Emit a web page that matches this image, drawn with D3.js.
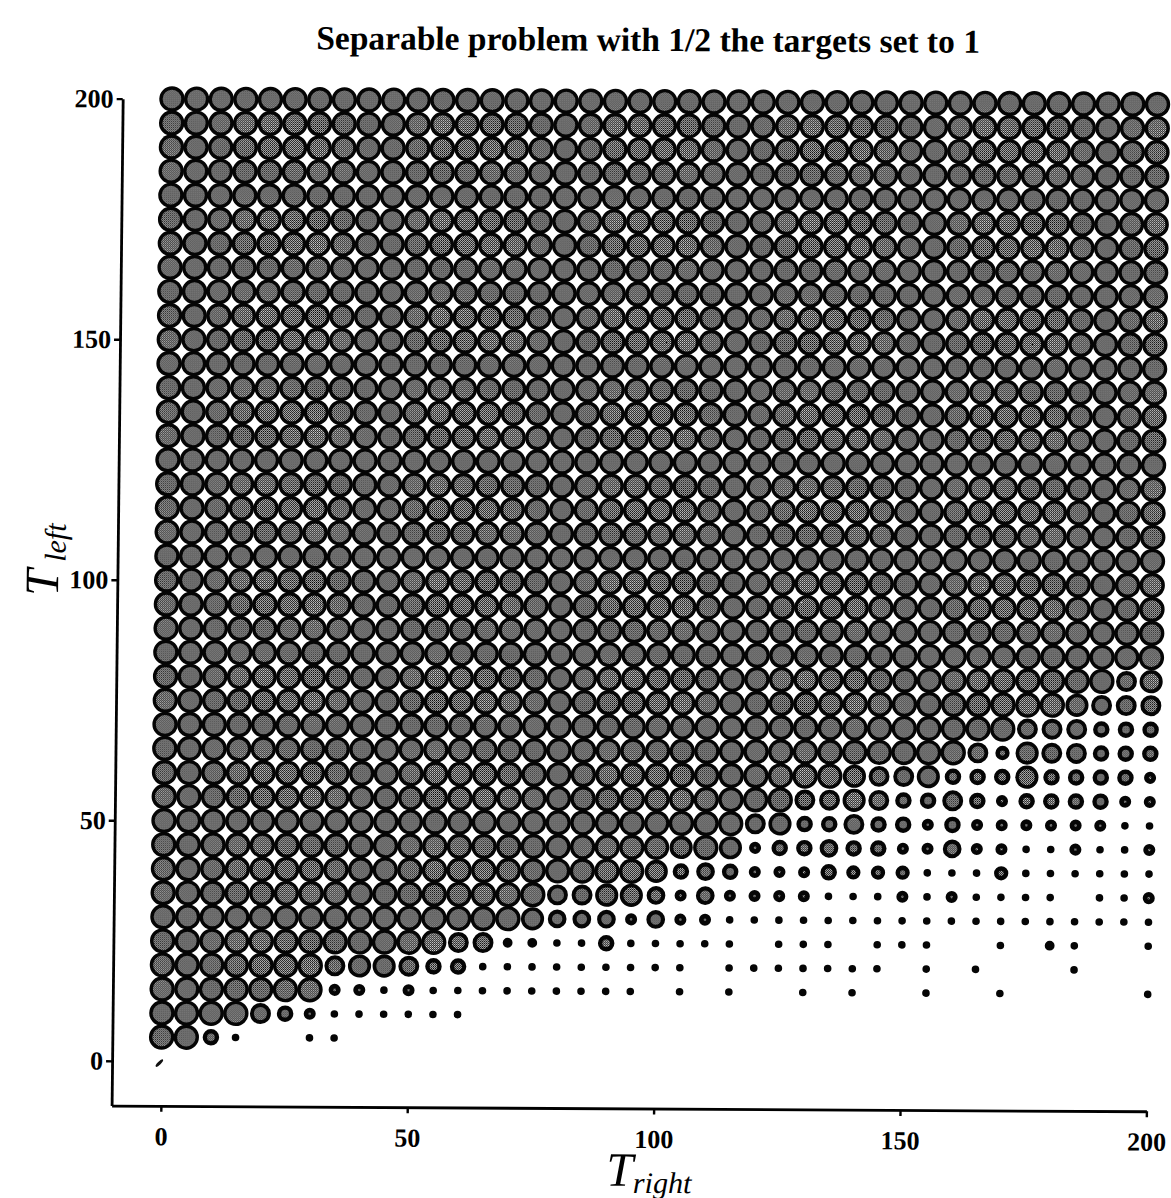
<!DOCTYPE html>
<html><head><meta charset="utf-8">
<script src="https://cdn.jsdelivr.net/npm/d3@7"></script>
<style>body{margin:0;background:#fff}svg{display:block}</style>
</head><body>
<svg id="chart" width="1171" height="1198"></svg>
<script>
// ---------------- data ----------------
const titleText = "Separable problem with 1/2 the targets set to 1";
const tRight = [0,5,10,15,20,25,30,35,40,45,50,55,60,65,70,75,80,85,90,95,100,
                105,110,115,120,125,130,135,140,145,150,155,160,165,170,175,180,185,190,195,200];
const tLeft = [200,195,190,185,180,175,170,165,160,155,150,145,140,135,130,125,120,115,110,105,
               100,95,90,85,80,75,70,65,60,55,50,45,40,35,30,25,20,15,10,5];
const xTicks = [0,50,100,150,200];
const yTicks = [0,50,100,150,200];
// size code per cell (row = tLeft, column = tRight); 9 = full circle, 1 = dot, 0 = empty
const sizeRows = [
  "9999999999"+"9999999999"+"9999999999"+"9999999999"+"9", // 200
  "9999999999"+"9999999999"+"9999999999"+"9999999999"+"9", // 195
  "9999999999"+"9999999999"+"9999999999"+"9999999999"+"9", // 190
  "9999999999"+"9999999999"+"9999999999"+"9999999999"+"9", // 185
  "9999999999"+"9999999999"+"9999999999"+"9999999999"+"9", // 180
  "9999999999"+"9999999999"+"9999999999"+"9999999999"+"9", // 175
  "9999999999"+"9999999999"+"9999999999"+"9999999999"+"9", // 170
  "9999999999"+"9999999999"+"9999999999"+"9999999999"+"9", // 165
  "9999999999"+"9999999999"+"9999999999"+"9999999999"+"9", // 160
  "9999999999"+"9999999999"+"9999999999"+"9999999999"+"9", // 155
  "9999999999"+"9999999999"+"9999999999"+"9999999999"+"9", // 150
  "9999999999"+"9999999999"+"9999999999"+"9999999999"+"9", // 145
  "9999999999"+"9999999999"+"9999999999"+"9999999999"+"9", // 140
  "9999999999"+"9999999999"+"9999999999"+"9999999999"+"9", // 135
  "9999999999"+"9999999999"+"9999999999"+"9999999999"+"9", // 130
  "9999999999"+"9999999999"+"9999999999"+"9999999999"+"9", // 125
  "9999999999"+"9999999999"+"9999999999"+"9999999999"+"9", // 120
  "9999999999"+"9999999999"+"9999999999"+"9999999999"+"9", // 115
  "9999999999"+"9999999999"+"9999999999"+"9999999999"+"9", // 110
  "9999999999"+"9999999999"+"9999999999"+"9999999999"+"9", // 105
  "9999999999"+"9999999999"+"9999999999"+"9999999999"+"9", // 100
  "9999999999"+"9999999999"+"9999999999"+"9999999999"+"9", // 95
  "9999999999"+"9999999999"+"9999999999"+"9999999999"+"9", // 90
  "9999999999"+"9999999999"+"9999999999"+"9999999999"+"9", // 85
  "9999999999"+"9999999999"+"9999999999"+"9999999997"+"8", // 80
  "9999999999"+"9999999999"+"9999999999"+"9999999877"+"7", // 75
  "9999999999"+"9999999999"+"9999999999"+"9999977755"+"5", // 70
  "9999999999"+"9999999999"+"9999999999"+"9997487755"+"5", // 65
  "9999999999"+"9999999999"+"9999999987"+"7855585555"+"3", // 60
  "9999999999"+"9999999999"+"9999997787"+"5575355553"+"3", // 55
  "9999999999"+"9999999999"+"9999785575"+"5353333331"+"1", // 50
  "9999999999"+"9999999999"+"9898355655"+"3363311311"+"3", // 45
  "9999999999"+"9999999999"+"8565333544"+"4111411111"+"1", // 40
  "9999999999"+"9999997788"+"6363333111"+"3131111011"+"3", // 35
  "9999999999"+"9999986663"+"6331111111"+"1111111111"+"1", // 30
  "9999999999"+"9977221151"+"1111011101"+"1100102100"+"1", // 25
  "9999999788"+"7551111111"+"1101111111"+"0101000100"+"0", // 20
  "9999999331"+"3111111111"+"0101001010"+"0100100000"+"1", // 15
  "9999753111"+"1110000000"+"0000000000"+"0000000000"+"0", // 10
  "9951001100"+"0000000000"+"0000000000"+"0000000000"+"0"  // 5
];

// ---------------- drawing ----------------
const svg = d3.select("#chart");
const defs = svg.append("defs");
const pat = defs.append("pattern").attr("id","halftone")
  .attr("width",2).attr("height",2).attr("patternUnits","userSpaceOnUse");
pat.append("rect").attr("width",2).attr("height",2).attr("fill","#d2d2d2");
pat.append("rect").attr("width",1).attr("height",1).attr("fill","#000");
pat.append("rect").attr("x",1).attr("y",1).attr("width",1).attr("height",1).attr("fill","#000");

// slight scan skew of the original page
const g = svg.append("g").attr("transform","matrix(1,0.0055,-0.011,1,6.6,-3.575)");

const x = d3.scaleLinear().domain([-10,200]).range([117.2,1152]);
const y = d3.scaleLinear().domain([-9.3,200]).range([1108.5,101.6]);
const rOuter = d3.scaleLinear().domain([1,9]).range([3.8,12.7]);
const ring = d3.scaleLinear().domain([1,3,5,7,9]).range([3.8,4.7,4.4,3.9,3.4]).clamp(true);

const cells = [];
let bad = [];
sizeRows.forEach((row,j)=>{
  if (row.length !== tRight.length) bad.push(tLeft[j]+":"+row.length);
  tRight.forEach((tr,i)=>{
    const c = +row[i];
    if (c>0) cells.push({tr, tl:tLeft[j], c});
  });
});

const cg = g.append("g");
cg.selectAll("circle.o").data(cells).join("circle").attr("class","o")
  .attr("cx",d=>x(d.tr)).attr("cy",d=>y(d.tl)).attr("r",d=>rOuter(d.c)).attr("fill","#050505");
cg.selectAll("circle.i").data(cells.filter(d=>rOuter(d.c)-ring(d.c)>0.7)).join("circle").attr("class","i")
  .attr("cx",d=>x(d.tr)).attr("cy",d=>y(d.tl)).attr("r",d=>rOuter(d.c)-ring(d.c)).attr("fill","url(#halftone)");

// small slash at the origin
g.append("ellipse").attr("cx",x(0)-2).attr("cy",y(0)+2).attr("rx",5).attr("ry",1.6)
  .attr("transform",`rotate(-45,${x(0)-2},${y(0)+2})`).attr("fill","#111");

// axes
const fontTick = "'Liberation Serif','Times New Roman',serif";
const yAx = g.append("g").attr("transform",`translate(${x(-10)},0)`)
  .call(d3.axisLeft(y).tickValues(yTicks).tickSize(6).tickSizeOuter(0).tickPadding(3));
const xAx = g.append("g").attr("transform",`translate(0,${y(-9.3)})`)
  .call(d3.axisBottom(x).tickValues(xTicks).tickSize(6).tickSizeOuter(0).tickPadding(15));
[yAx,xAx].forEach(a=>{
  a.select(".domain").attr("stroke","#000").attr("stroke-width",2.8);
  a.selectAll(".tick line").attr("stroke","#000").attr("stroke-width",2.4);
  a.selectAll(".tick text").attr("fill","#000").style("font-family",fontTick)
    .style("font-weight","bold").style("font-size","26px");
});

// title
g.append("text").attr("x",642).attr("y",51).attr("text-anchor","middle")
  .style("font-family",fontTick).style("font-weight","bold").style("font-size","33.5px")
  .text(titleText);

// axis titles
const xt = g.append("text").attr("x",x(100)-4).attr("y",1186).attr("text-anchor","middle")
  .style("font-family",fontTick).style("font-style","italic");
xt.append("tspan").style("font-size","48px").text("T");
xt.append("tspan").style("font-size","30px").attr("dy",7).text("right");

const ytx = 58, yty = 563;
const ytt = g.append("text").attr("transform",`translate(${ytx},${yty}) rotate(-90)`)
  .attr("text-anchor","middle").style("font-family",fontTick).style("font-style","italic");
ytt.append("tspan").style("font-size","48px").text("T");
ytt.append("tspan").style("font-size","30px").attr("dy",7).text(" left");

if (bad.length) svg.append("text").attr("x",300).attr("y",600).attr("fill","red")
  .style("font-size","30px").text("BAD ROWS "+bad.join(" "));
</script>
</body></html>
